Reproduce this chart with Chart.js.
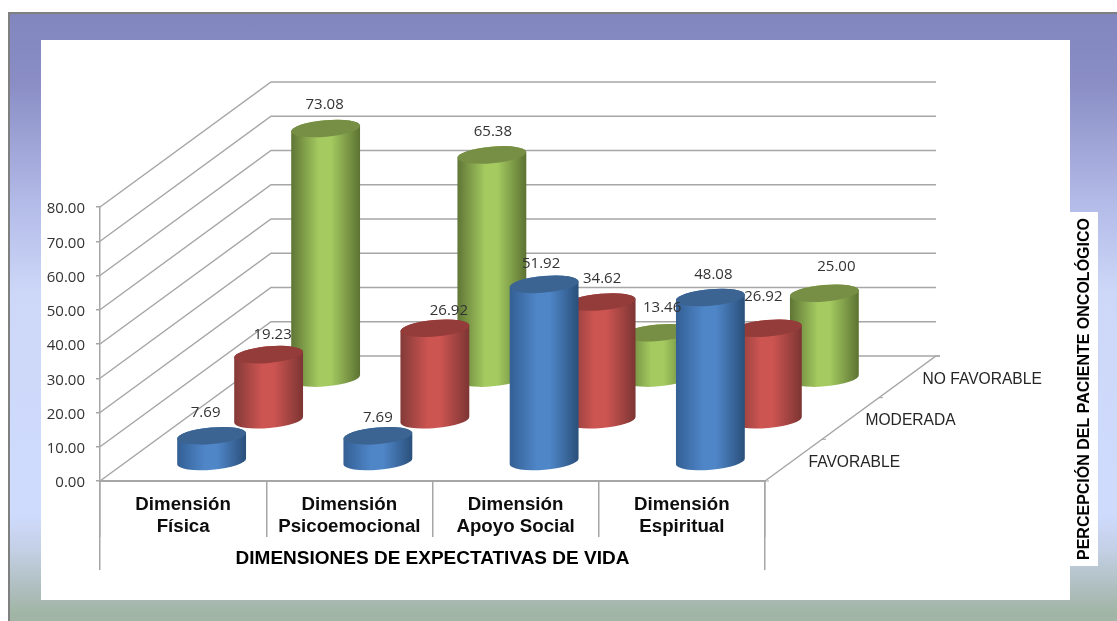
<!DOCTYPE html>
<html><head><meta charset="utf-8">
<style>
html,body{margin:0;padding:0;background:#fff;width:1117px;height:621px;overflow:hidden}
#frame{position:absolute;left:8px;top:12px;width:1109px;height:609px;box-sizing:border-box;border-left:2px solid #808080;border-top:2px solid #808080;
background:linear-gradient(180deg,#8286bf 0px,#8a8ec5 70px,#b3bbe8 190px,#cdd8f8 280px,#cfdbfd 500px,#c4d0e6 535px,#a9bab4 585px,#a0b5a5 600px)}
#panel{position:absolute;left:41px;top:40px;width:1029px;height:560px;background:#fff}
#box{position:absolute;left:1070px;top:212px;width:28px;height:354px;background:#fff}
canvas{position:absolute;left:0;top:0}
</style>
<script src="https://cdn.jsdelivr.net/npm/chart.js@4"></script>
</head><body>
<div id="frame"></div><div id="panel"></div><div id="box"></div>
<div style="position:absolute;left:0;top:0;width:1117px;height:621px"><canvas id="c" width="1117" height="621"></canvas></div>
<script>
const categories = [['Dimensión','Física'],['Dimensión','Psicoemocional'],['Dimensión','Apoyo Social'],['Dimensión','Espiritual']];
const seriesNames = ['FAVORABLE','MODERADA','NO FAVORABLE'];
const favorable = [7.69,7.69,51.92,48.08];
const moderada = [19.23,26.92,34.62,26.92];
const noFavorable = [73.08,65.38,13.46,25.00];
const yTicksMax = 80, yTickStep = 10;
const xTitle = 'DIMENSIONES DE EXPECTATIVAS DE VIDA';
const depthTitle = 'PERCEPCIÓN DEL PACIENTE ONCOLÓGICO';

// presentation
const DEPTH_X = 171, DEPTH_Y = -125, ELL_RY = 8.3, ELL_ROT = -5*Math.PI/180, CYL_SHIFT = 2;
const GRID = '#a6a6a6';
const shades = [
 {edgeL:'#335f94',mid:'#4f86c8',edgeR:'#2a4f7a',top:'#3b6493'},
 {edgeL:'#833a38',mid:'#cc5451',edgeR:'#7c3533',top:'#943c3a'},
 {edgeL:'#5f7535',mid:'#a4ca60',edgeR:'#5c7232',top:'#778f45'}
];
const labelOffsets = [
 [[-6,-21],[0,-16],[-3,-19],[3,-21]],
 [[4,-18],[14,-16],[1,-21],[-4,-30]],
 [[-1,-22],[1,-21],[4,-23],[12,-24]]
];
const depthFrac = i => (i+0.5)/seriesNames.length;

const cylinders = {
 id:'cylinders',
 beforeDatasetsDraw(chart){
  const {ctx,chartArea:a,scales:{x,y}} = chart;
  ctx.save();
  ctx.strokeStyle = GRID; ctx.lineWidth = 1.5;
  y.ticks.forEach(t=>{
    const py = y.getPixelForValue(t.value);
    ctx.beginPath();
    ctx.moveTo(a.left,py);
    ctx.lineTo(a.left+DEPTH_X,py+DEPTH_Y);
    ctx.lineTo(a.right+DEPTH_X,py+DEPTH_Y);
    ctx.stroke();
  });
  // side edge of the floor
  ctx.beginPath();
  ctx.moveTo(a.right,a.bottom);
  ctx.lineTo(a.right+DEPTH_X,a.bottom+DEPTH_Y);
  ctx.lineTo(a.right+DEPTH_X+4,a.bottom+DEPTH_Y);
  ctx.stroke();
  // depth ticks and labels
  ctx.lineWidth = 1;
  for(let i=0;i<=seriesNames.length;i++){
    const f=i/seriesNames.length, px=a.right+DEPTH_X*f, py=a.bottom+DEPTH_Y*f;
    ctx.beginPath();ctx.moveTo(px,py);ctx.lineTo(px+4,py);ctx.stroke();
  }
  ctx.fillStyle='#262626';ctx.font='15.6px "Liberation Sans"';ctx.textAlign='left';ctx.textBaseline='middle';
  seriesNames.forEach((n,i)=>{
    const f=depthFrac(i);
    ctx.fillText(n,a.right+DEPTH_X*f+15,a.bottom+DEPTH_Y*f+2.5);
  });
  // outer drops of the category table
  ctx.strokeStyle=GRID;ctx.lineWidth=1.5;
  [a.left,a.right].forEach(px=>{ctx.beginPath();ctx.moveTo(px-0.25,a.bottom);ctx.lineTo(px-0.25,570);ctx.stroke();});
  ctx.restore();
 },
 beforeDatasetDraw(chart,args){
  const {ctx,chartArea:a} = chart;
  const idx=args.index, s=shades[idx], f=depthFrac(idx);
  const dx=DEPTH_X*f, dy=DEPTH_Y*f+CYL_SHIFT;
  args.meta.data.forEach(bar=>{
    const cx=bar.x+dx, top=bar.y+dy, base=bar.base+dy, rx=bar.width/2;
    const ox=rx*Math.cos(ELL_ROT), oy=rx*Math.sin(ELL_ROT);
    const g=ctx.createLinearGradient(cx-rx,0,cx+rx,0);
    g.addColorStop(0,s.edgeL);g.addColorStop(0.4,s.mid);g.addColorStop(0.58,s.mid);g.addColorStop(1,s.edgeR);
    ctx.save();
    ctx.beginPath();
    ctx.moveTo(cx-ox,top-oy);
    ctx.lineTo(cx-ox,base-oy);
    ctx.ellipse(cx,base,rx,ELL_RY,ELL_ROT,Math.PI,0,true);
    ctx.lineTo(cx+ox,top+oy);
    ctx.ellipse(cx,top,rx,ELL_RY,ELL_ROT,0,Math.PI,true);
    ctx.closePath();
    ctx.fillStyle=g;ctx.fill();
    ctx.beginPath();
    ctx.ellipse(cx,top,rx,ELL_RY,ELL_ROT,0,Math.PI*2);
    ctx.fillStyle=s.top;ctx.fill();
    ctx.restore();
  });
  return false;
 },
 afterDatasetsDraw(chart){
  const {ctx,chartArea:a} = chart;
  ctx.save();
  ctx.font='15px "Open Sans"';ctx.fillStyle='#333';ctx.textAlign='center';ctx.textBaseline='middle';
  chart.data.datasets.forEach((ds,si)=>{
    const f=depthFrac(si);
    chart.getDatasetMeta(si).data.forEach((bar,i)=>{
      const o=labelOffsets[si][i];
      ctx.fillText(ds.data[i].toFixed(2),bar.x+DEPTH_X*f+o[0],bar.y+DEPTH_Y*f+o[1]);
    });
  });
  // vertical depth-axis title
  ctx.translate(1085,389);ctx.rotate(-Math.PI/2);
  ctx.font='bold 16px "Liberation Sans"';ctx.fillStyle='#000';
  ctx.fillText(depthTitle,0,0);
  ctx.restore();
 }
};

new Chart(document.getElementById('c'),{
 type:'bar',
 data:{labels:categories,datasets:[
  {label:seriesNames[0],data:favorable,backgroundColor:'#4f86c8'},
  {label:seriesNames[1],data:moderada,backgroundColor:'#cc5451'},
  {label:seriesNames[2],data:noFavorable,backgroundColor:'#a4ca60'}
 ]},
 options:{
  responsive:false,animation:false,
  layout:{padding:{left:0,top:207,right:352,bottom:0}},
  plugins:{legend:{display:false},tooltip:{enabled:false},title:{display:false}},
  datasets:{bar:{grouped:false,barPercentage:1,categoryPercentage:69/166}},
  scales:{
   x:{
    afterFit(s){s.height=140;},
    grid:{drawOnChartArea:false,drawTicks:true,tickLength:56,color:GRID,lineWidth:1.5},
    border:{color:GRID,width:2},
    ticks:{font:{family:'"Liberation Sans"',size:18.7,weight:'bold',lineHeight:1.18},color:'#0d0d0d',padding:-43,maxRotation:0,autoSkip:false},
    title:{display:true,text:xTitle,color:'#000',font:{family:'"Liberation Sans"',size:19,weight:'bold',lineHeight:1.2},padding:{top:0,bottom:51}}
   },
   y:{
    min:0,max:yTicksMax,
    afterFit(s){s.width=100;},
    grid:{drawOnChartArea:false,drawTicks:true,tickLength:4,color:GRID,lineWidth:1.5},
    border:{color:GRID,width:1.5},
    ticks:{stepSize:yTickStep,font:{family:'"Open Sans"',size:15},color:'#333',padding:11,labelOffset:2,callback:v=>v.toFixed(2)}
   }
  }
 },
 plugins:[cylinders]
});
</script>
</body></html>
